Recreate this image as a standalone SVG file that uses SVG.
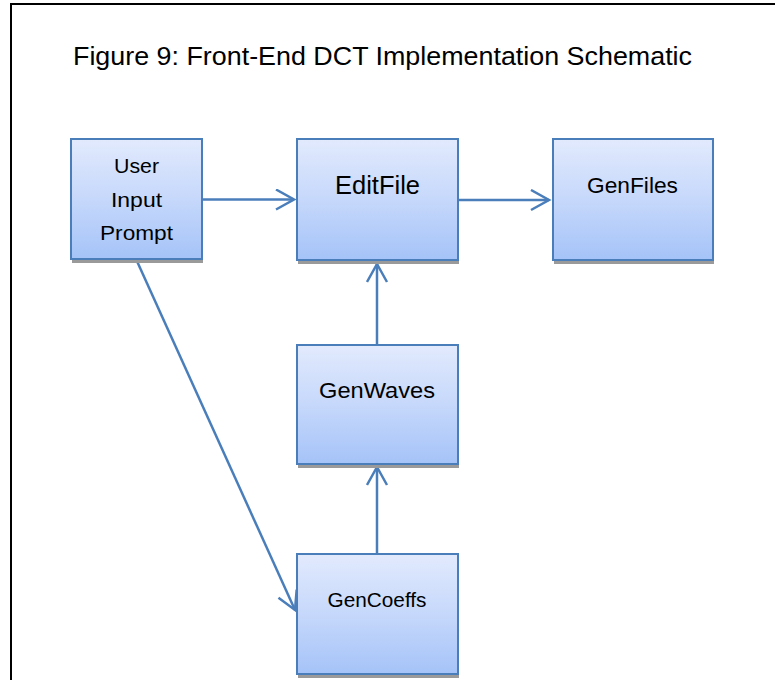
<svg xmlns="http://www.w3.org/2000/svg" width="775" height="680" viewBox="0 0 775 680">
<style>
.box{fill:url(#g);stroke:#4a7ebb;stroke-width:2}
.sh{fill:#9a9a9a}
.t{font-family:"Liberation Sans",Arial,sans-serif;fill:#000;text-anchor:middle}
.c{stroke:#4a7ebb;stroke-width:2.5;fill:none}
</style>
<defs>
<linearGradient id="g" x1="0" y1="0" x2="0" y2="1">
<stop offset="0" stop-color="#e2eafd"/>
<stop offset="0.5" stop-color="#c6d8fb"/>
<stop offset="1" stop-color="#a5c3f8"/>
</linearGradient>
<marker id="a" markerUnits="userSpaceOnUse" markerWidth="24" markerHeight="24" refX="19" refY="11" orient="auto" viewBox="0 0 24 24">
<path d="M1,1 L19,11 L1,21" fill="none" stroke="#4a7ebb" stroke-width="2.5"/>
</marker>
</defs>
<rect x="11" y="4" width="800" height="700" fill="#fff" stroke="#000" stroke-width="2"/>
<text class="t" x="382.5" y="65" font-size="25" textLength="619" lengthAdjust="spacingAndGlyphs">Figure 9: Front-End DCT Implementation Schematic</text>
<g id="connectors">
<line class="c" x1="202" y1="199.5" x2="294" y2="199.5" marker-end="url(#a)"/>
<line class="c" x1="458" y1="200" x2="549" y2="200" marker-end="url(#a)"/>
<line class="c" x1="377" y1="345" x2="377" y2="264" marker-end="url(#a)"/>
<line class="c" x1="377" y1="554" x2="377" y2="467" marker-end="url(#a)"/>
<line class="c" x1="136" y1="259" x2="295" y2="610" marker-end="url(#a)"/>
</g>
<g id="user">
<rect class="sh" x="72" y="259" width="131" height="4"/>
<rect class="box" x="71" y="139" width="131" height="120"/>
<text class="t" x="136.5" y="173" font-size="20" textLength="45" lengthAdjust="spacingAndGlyphs">User</text>
<text class="t" x="136.5" y="206.5" font-size="20" textLength="51" lengthAdjust="spacingAndGlyphs">Input</text>
<text class="t" x="136.5" y="240" font-size="20" textLength="73" lengthAdjust="spacingAndGlyphs">Prompt</text>
</g>
<g id="editfile">
<rect class="sh" x="298" y="260" width="161" height="4"/>
<rect class="box" x="297" y="139" width="161" height="121"/>
<text class="t" x="377.5" y="194" font-size="25" textLength="85" lengthAdjust="spacingAndGlyphs">EditFile</text>
</g>
<g id="genfiles">
<rect class="sh" x="554" y="260" width="160" height="4"/>
<rect class="box" x="553" y="139" width="160" height="121"/>
<text class="t" x="632.5" y="193" font-size="22" textLength="91" lengthAdjust="spacingAndGlyphs">GenFiles</text>
</g>
<g id="genwaves">
<rect class="sh" x="298" y="464" width="161" height="4"/>
<rect class="box" x="297" y="345" width="161" height="119"/>
<text class="t" x="377" y="397.5" font-size="22" textLength="116" lengthAdjust="spacingAndGlyphs">GenWaves</text>
</g>
<g id="gencoeffs">
<rect class="sh" x="298" y="674" width="161" height="4"/>
<rect class="box" x="297" y="554" width="161" height="120"/>
<text class="t" x="377" y="606.5" font-size="20" textLength="99" lengthAdjust="spacingAndGlyphs">GenCoeffs</text>
</g>
</svg>
